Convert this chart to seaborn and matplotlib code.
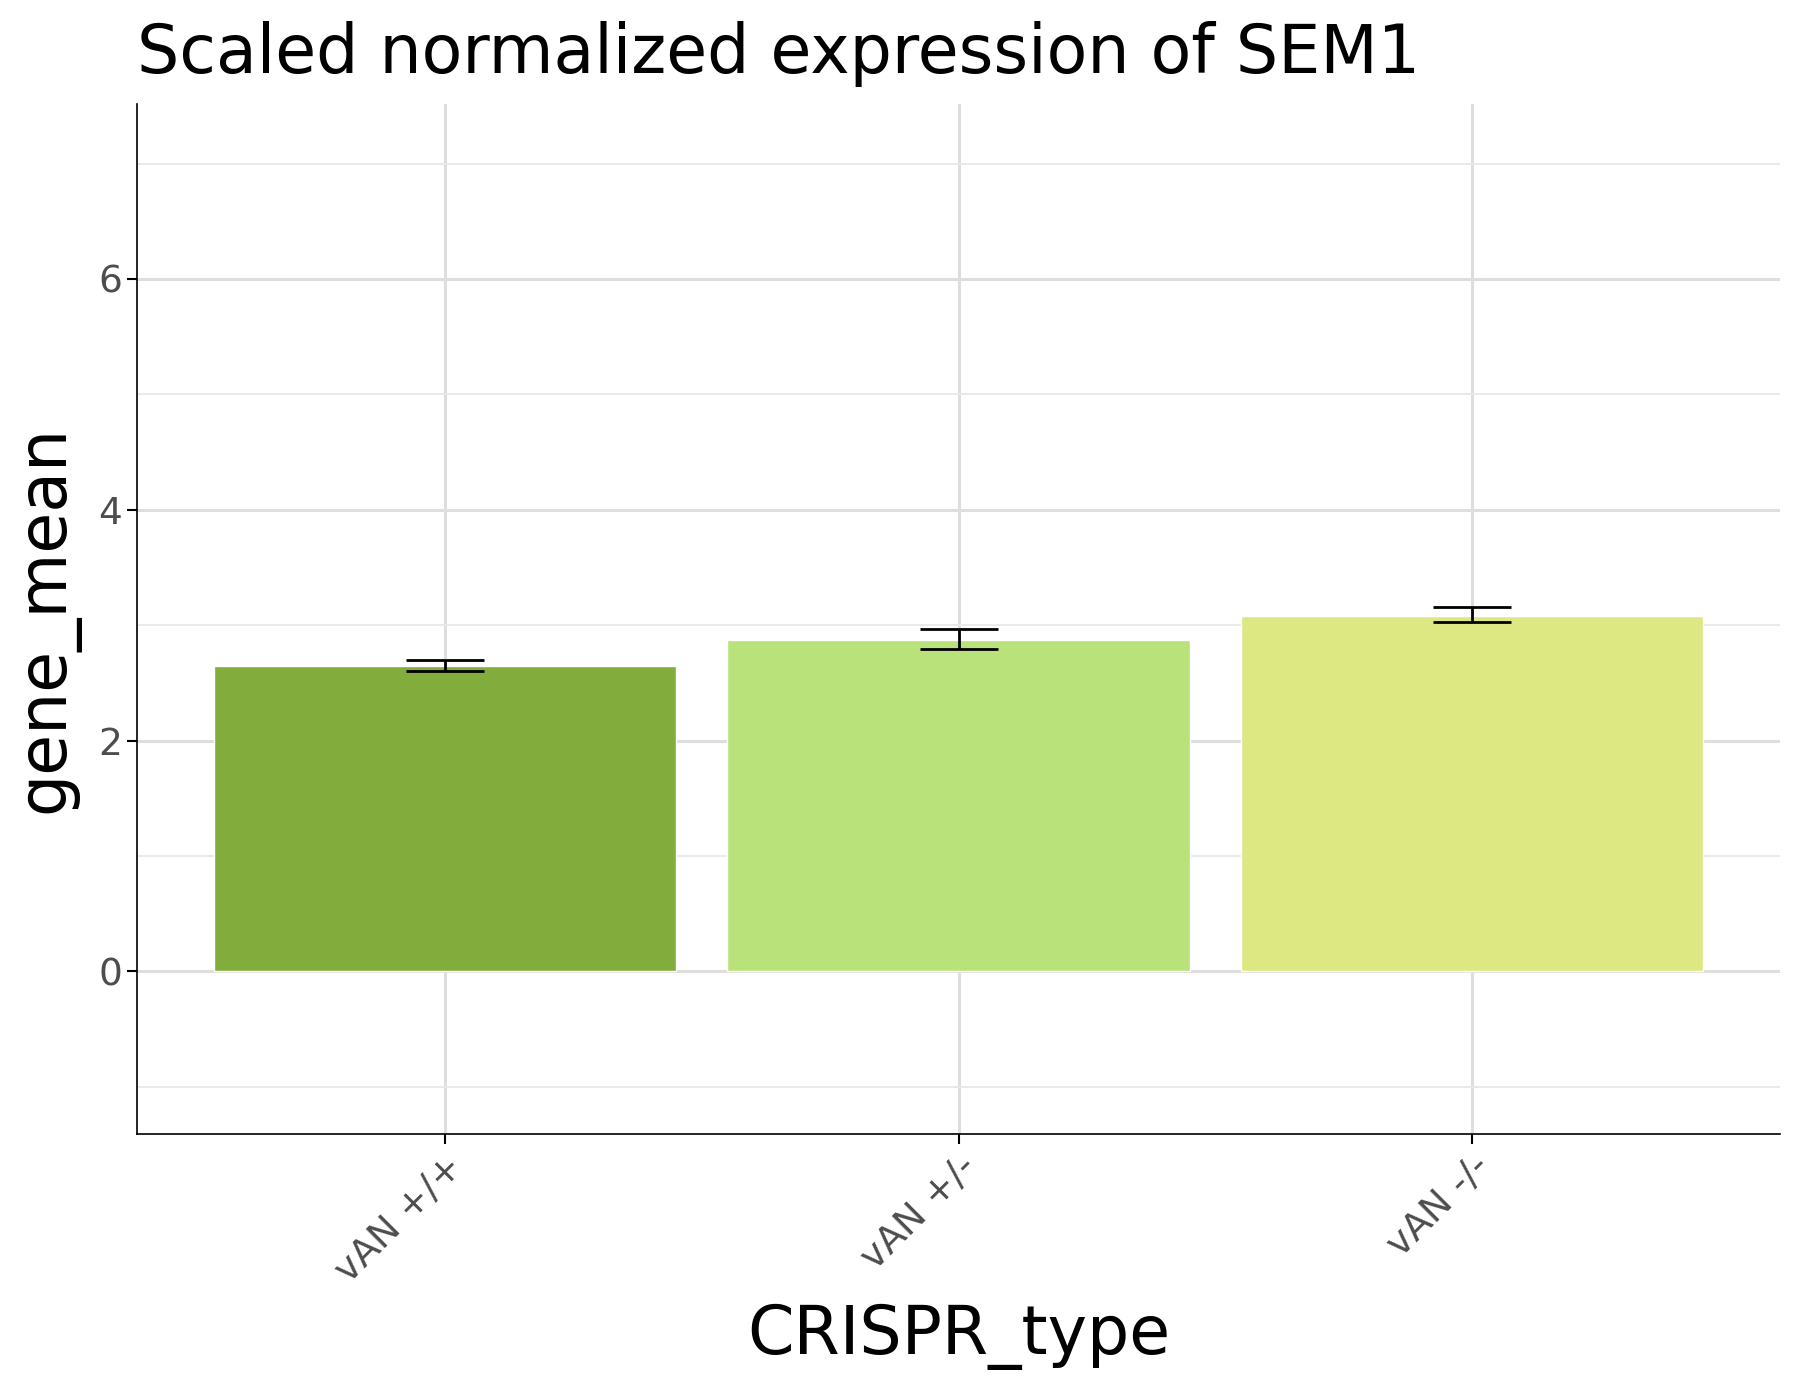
import seaborn as sns
import matplotlib.pyplot as plt
import pandas as pd

categories = ['vAN +/+', 'vAN +/-', 'vAN -/-']
gene_mean = [2.65, 2.87, 3.08]
err_low = [2.60, 2.79, 3.03]
err_high = [2.70, 2.97, 3.16]
bar_colors = ['#82AD3C', '#B9E27A', '#DEE882']

df = pd.DataFrame({'CRISPR_type': categories, 'gene_mean': gene_mean})

sns.set_theme(style='whitegrid')
plt.rcParams['font.family'] = ['DejaVu Sans']

fig = plt.figure(figsize=(18, 14), dpi=100)
ax = fig.add_axes([0.076, 0.19, 0.913, 0.736])

sns.barplot(x='CRISPR_type', y='gene_mean', data=df, hue='CRISPR_type',
            palette=bar_colors, width=0.9, saturation=1, legend=False, ax=ax, zorder=2)
for i in range(len(categories)):
    ax.errorbar(i, gene_mean[i],
                yerr=[[gene_mean[i] - err_low[i]], [err_high[i] - gene_mean[i]]],
                color='black', capsize=28, elinewidth=2, capthick=2, zorder=3)

ax.set_ylim(-1.41, 7.52)
ax.set_xlim(-0.6, 2.6)
ax.set_yticks([0, 2, 4, 6])
ax.set_yticks([-1, 1, 3, 5, 7], minor=True)
ax.grid(True, which='major', color='#DEDEDE', linewidth=2.2)
ax.grid(True, which='minor', axis='y', color='#E8E8E8', linewidth=1.3)
ax.set_axisbelow(True)
for s in ['top', 'right']:
    ax.spines[s].set_visible(False)
for s in ['left', 'bottom']:
    ax.spines[s].set_color('black')
    ax.spines[s].set_linewidth(1.2)
ax.tick_params(axis='both', colors='#4D4D4D', labelsize=27, length=7, width=1.5,
               direction='out', bottom=True, left=True, which='major')
ax.tick_params(axis='both', colors='black', labelcolor='#4D4D4D')
plt.setp(ax.get_xticklabels(), rotation=45, ha='right', rotation_mode='anchor')

ax.set_title('Scaled normalized expression of SEM1', fontsize=48, loc='left',
             x=0.0, pad=22, color='black')
ax.set_xlabel('CRISPR_type', fontsize=48, labelpad=10, color='black')
ax.set_ylabel('gene_mean', fontsize=48, labelpad=14, color='black')

fig.savefig('out.png', dpi=100, facecolor='white')
